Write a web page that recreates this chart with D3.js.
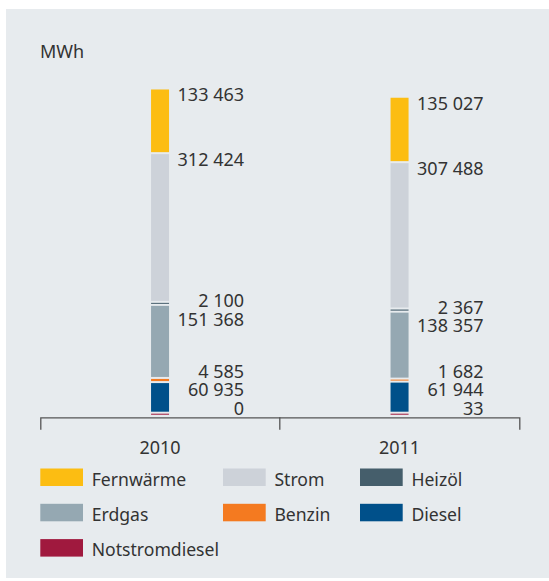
<!DOCTYPE html>
<html>
<head>
<meta charset="utf-8">
<script src="https://cdn.jsdelivr.net/npm/d3@7"></script>
<style>
body { margin:0; background:#fff; }
text { font-family:"Noto Sans", sans-serif; fill:#333; }
</style>
</head>
<body>
<svg id="chart" width="549" height="581"></svg>
<script>
var years = ["2010","2011"]
// bottom-up stacking order
var carriers = ["Notstromdiesel","Diesel","Benzin","Erdgas","Heizöl","Strom","Fernwärme"]
var values2010 = [0, 60935, 4585, 151368, 2100, 312424, 133463]
var values2011 = [33, 61944, 1682, 138357, 2367, 307488, 135027]
var colors = ["#a0193e","#00508a","#f47a20","#95a8b2","#455e6b","#cdd2d9","#fcbd12"]
var legendOrder = ["Fernwärme","Strom","Heizöl","Erdgas","Benzin","Diesel","Notstromdiesel"]
var unit = "MWh"

var data = {"2010":values2010, "2011":values2011}
var svg = d3.select("#chart")
var fmt = function(v){ return d3.format(",")(v).replace(/,/g," ") }

svg.append("rect").attr("x",6).attr("y",9).attr("width",543).attr("height",569).attr("fill","#e7ebee")

svg.append("text").attr("x",40).attr("y",57.5).attr("font-size",18).text(unit)

var base = 414.7, axisY = 417.3
var x = d3.scaleBand().domain(years).range([40.3,519.3])
var y = d3.scaleLinear().domain([0,700000]).range([base,86])
var barW = 18, gap = 2, labelGap = 18.8, capH = 11.5

var color = d3.scaleOrdinal().domain(carriers).range(colors)

years.forEach(function(yr){
	var g = svg.append("g")
	var bx = x(yr) + x.bandwidth()/2 - barW/2
	var cur = base
	var segs = []
	data[yr].forEach(function(v,i){
		var h = Math.max(1, base - y(v))
		segs.push({name:carriers[i], v:v, y:cur-h, h:h})
		cur = cur - h - gap
	})
	g.selectAll("rect").data(segs).enter().append("rect")
		.attr("x",bx).attr("width",barW)
		.attr("y",function(d){return d.y}).attr("height",function(d){return d.h})
		.attr("fill",function(d){return color(d.name)})

	// label placement: top of segment, pushed apart in clusters, last one kept above bar bottom
	var labs = segs.map(function(d){return {d:d, ideal:Math.min(d.y, base-capH)}}).sort(function(a,b){return a.ideal-b.ideal})
	var clusters = []
	labs.forEach(function(l){
		clusters.push({items:[l]})
		while(true){
			var c = clusters[clusters.length-1]
			var n = c.items.length
			var pos = d3.mean(c.items, function(it,k){return it.ideal - k*labelGap})
			if(pos + (n-1)*labelGap > base-capH) pos = base-capH-(n-1)*labelGap
			c.pos = pos
			if(clusters.length>1){
				var p = clusters[clusters.length-2]
				if(p.pos + p.items.length*labelGap > pos){
					p.items = p.items.concat(c.items)
					clusters.pop()
					continue
				}
			}
			break
		}
	})
	clusters.forEach(function(c){ c.items.forEach(function(it,k){ it.top = c.pos + k*labelGap }) })

	g.selectAll("text").data(labs).enter().append("text")
		.attr("x",bx+barW+75).attr("y",function(d){return d.top+capH+0.5})
		.attr("text-anchor","end").attr("font-size",18)
		.text(function(d){return fmt(d.d.v)})
})

var axis = svg.append("g").attr("transform","translate(0,"+axisY+")")
	.call(d3.axisBottom(x).tickSizeInner(0).tickSizeOuter(12.5).tickPadding(24))
axis.selectAll("path,line").attr("stroke","#555").attr("stroke-width",1.3)
axis.selectAll("text").attr("font-size",18).attr("font-family","Noto Sans").attr("fill","#333")
axis.append("line").attr("x1",x(years[1])).attr("x2",x(years[1])).attr("y1",0).attr("y2",12.5)
	.attr("stroke","#555").attr("stroke-width",1.3)

var leg = svg.append("g")
var colX = [40.3, 223, 360]
legendOrder.forEach(function(name,i){
	var lx = colX[i%3], ly = 468.5 + Math.floor(i/3)*35.3
	leg.append("rect").attr("x",lx).attr("y",ly).attr("width",42.7).attr("height",17.5).attr("fill",color(name))
	leg.append("text").attr("x",lx+51.4).attr("y",ly+17).attr("font-size",17.6).text(name)
})
</script>
</body>
</html>
